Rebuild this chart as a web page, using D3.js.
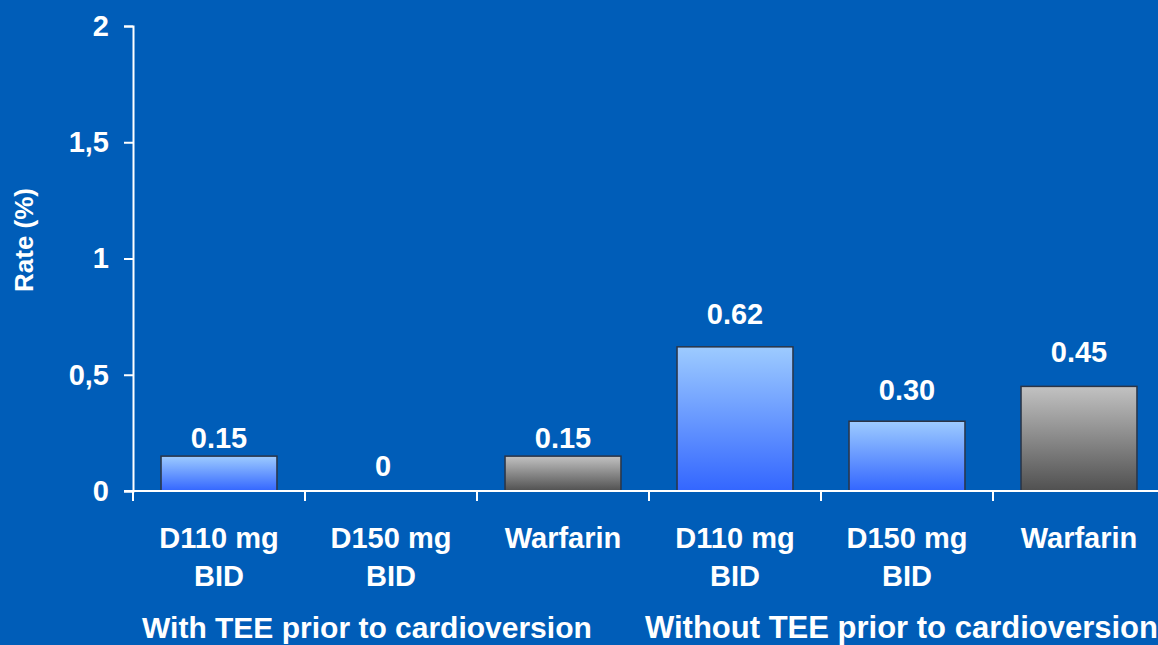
<!DOCTYPE html>
<html>
<head>
<meta charset="utf-8">
<script src="https://cdn.jsdelivr.net/npm/d3@7"></script>
<style>
  html, body { margin: 0; padding: 0; background: #005DB8; }
  svg { display: block; }
  text { font-family: "Liberation Sans", Arial, sans-serif; font-weight: bold; fill: #ffffff; }
</style>
</head>
<body>
<svg id="chart" width="1158" height="645"></svg>
<script>
// Event rates by treatment arm, split by TEE use before cardioversion
const categoryLine1 = ["D110 mg", "D150 mg", "Warfarin", "D110 mg", "D150 mg", "Warfarin"];
const categoryLine2 = ["BID", "BID", "", "BID", "BID", ""];
const treatment = ["dabigatran", "dabigatran", "warfarin", "dabigatran", "dabigatran", "warfarin"];
const groupOf = [0, 0, 0, 1, 1, 1];
const groupNames = ["With TEE prior to cardioversion", "Without TEE prior to cardioversion"];
const rates = [0.15, 0, 0.15, 0.62, 0.30, 0.45];
const rateLabels = ["0.15", "0", "0.15", "0.62", "0.30", "0.45"];
const yTicks = [0, 0.5, 1, 1.5, 2];
const yTickLabels = ["0", "0,5", "1", "1,5", "2"];
const yTitle = "Rate (%)";

const svg = d3.select("#chart");
const ids = d3.range(rates.length);

const x = d3.scaleBand()
  .domain(ids)
  .range([133, 1165])
  .paddingInner(0.326)
  .paddingOuter(0.163);

const y = d3.scaleLinear().domain([0, 2]).range([491, 26]);

// Gradients for the two bar styles
const defs = svg.append("defs");
const gradBlue = defs.append("linearGradient").attr("id", "g-dabigatran")
  .attr("x1", 0).attr("y1", 0).attr("x2", 0).attr("y2", 1);
gradBlue.append("stop").attr("offset", "0%").attr("stop-color", "#9DCBFF");
gradBlue.append("stop").attr("offset", "100%").attr("stop-color", "#3366FF");
const gradGrey = defs.append("linearGradient").attr("id", "g-warfarin")
  .attr("x1", 0).attr("y1", 0).attr("x2", 0).attr("y2", 1);
gradGrey.append("stop").attr("offset", "0%").attr("stop-color", "#C2C2C2");
gradGrey.append("stop").attr("offset", "100%").attr("stop-color", "#505050");

// Bars
svg.append("g").selectAll("rect")
  .data(ids.filter(i => rates[i] > 0))
  .join("rect")
  .attr("x", i => x(i))
  .attr("y", i => y(rates[i]))
  .attr("width", x.bandwidth())
  .attr("height", i => y(0) - y(rates[i]))
  .attr("fill", i => `url(#g-${treatment[i]})`)
  .attr("stroke", "#2B3445")
  .attr("stroke-width", 1.5);

// Value labels above bars
const labelLift = [8, 15, 8, 23, 21, 24];
const labelShift = [0, -8, 0, 0, 0, 0];
svg.append("g").selectAll("text")
  .data(ids)
  .join("text")
  .attr("x", i => x(i) + x.bandwidth() / 2 + labelShift[i])
  .attr("y", i => y(rates[i]) - labelLift[i])
  .attr("text-anchor", "middle")
  .attr("font-size", 29)
  .text(i => rateLabels[i]);

// Y axis
const yAxis = d3.axisLeft(y)
  .tickValues(yTicks)
  .tickFormat((d, i) => yTickLabels[i])
  .tickSize(9)
  .tickPadding(15);
const gy = svg.append("g").attr("transform", "translate(133,0)").call(yAxis);
gy.select(".domain").attr("stroke", "#fff").attr("stroke-width", 2);
gy.selectAll(".tick line").attr("stroke", "#fff").attr("stroke-width", 2);
gy.selectAll(".tick text").attr("font-size", 29).attr("fill", "#fff")
  .style("font-family", "'Liberation Sans', Arial, sans-serif").style("font-weight", "bold");

// X axis baseline with boundary ticks between categories
const axisX = svg.append("g");
const offset = (x.step() - x.bandwidth()) / 2;
axisX.append("line")
  .attr("x1", 124).attr("x2", 1165)
  .attr("y1", y(0)).attr("y2", y(0))
  .attr("stroke", "#fff").attr("stroke-width", 2);
axisX.selectAll("line.b")
  .data(ids)
  .join("line")
  .attr("class", "b")
  .attr("x1", i => x(i) - offset).attr("x2", i => x(i) - offset)
  .attr("y1", y(0)).attr("y2", y(0) + 10)
  .attr("stroke", "#fff").attr("stroke-width", 2);

// Category labels (two lines)
const cats = svg.append("g");
cats.selectAll("text.l1")
  .data(ids).join("text").attr("class", "l1")
  .attr("x", i => x(i) + x.bandwidth() / 2)
  .attr("y", 548)
  .attr("text-anchor", "middle")
  .attr("font-size", 29)
  .text(i => categoryLine1[i]);
cats.selectAll("text.l2")
  .data(ids).join("text").attr("class", "l2")
  .attr("x", i => x(i) + x.bandwidth() / 2)
  .attr("y", 586)
  .attr("text-anchor", "middle")
  .attr("font-size", 29)
  .text(i => categoryLine2[i]);

// Group labels
const groupStart = [9, -4];
const groupSize = [30, 31];
svg.append("g").selectAll("text")
  .data([0, 1])
  .join("text")
  .attr("x", g => x(ids.find(i => groupOf[i] === g)) - offset + groupStart[g])
  .attr("y", 638)
  .attr("font-size", g => groupSize[g])
  .text(g => groupNames[g]);

// Y axis title
svg.append("text")
  .attr("transform", "translate(33,240) rotate(-90)")
  .attr("text-anchor", "middle")
  .attr("font-size", 26)
  .text(yTitle);
</script>
</body>
</html>
